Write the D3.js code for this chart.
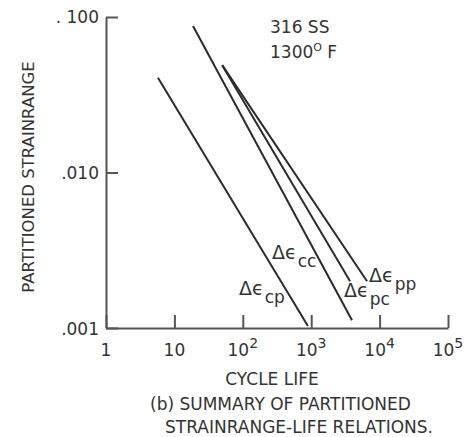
<!DOCTYPE html>
<html lang="en">
<head>
<meta charset="UTF-8">
<title>Partitioned strainrange-life</title>
<script src="https://d3js.org/d3.v7.min.js"></script>
<style>
  body { margin: 0; background: #fff; }
  text { font-family: "DejaVu Sans", sans-serif; fill: #333; }
</style>
</head>
<body>
<script>
// data: each relation is a straight line on log-log axes
var series = ["cp", "cc", "pc", "pp"];
var lifeStart = [5.75, 18.7, 50, 50];
var strainStart = [0.0407, 0.0875, 0.049, 0.049];
var lifeEnd = [895, 3950, 3700, 6550];
var strainEnd = [0.00103, 0.00112, 0.002, 0.002];

var xTicks = [1, 10, 100, 1000, 10000, 100000];
var xExp = ["", "", "2", "3", "4", "5"];
var yTicks = [0.001, 0.01, 0.1];
var yLabels = [".001", ".010", ". 100"];

var width = 470, height = 437;

var svg = d3.select("body").append("svg")
    .attr("width", width).attr("height", height);

var x = d3.scaleLog().domain([1, 1e5]).range([106, 448]);
var y = d3.scaleLog().domain([0.001, 0.1]).range([328, 17]);

var lines = series.map(function(s, i) {
    return { name: s, pts: [[lifeStart[i], strainStart[i]], [lifeEnd[i], strainEnd[i]]] };
});

// axes, ticks pointing inward
svg.append("g")
    .attr("transform", "translate(0," + y(0.001) + ")")
    .call(d3.axisBottom(x).tickValues(xTicks).tickFormat("").tickSizeInner(-13).tickSizeOuter(0));
svg.append("g")
    .attr("transform", "translate(" + x(1) + ",0)")
    .call(d3.axisLeft(y).tickValues(yTicks).tickFormat("").tickSizeInner(-12).tickSizeOuter(0));
svg.selectAll(".domain, .tick line").attr("stroke", "#555").attr("stroke-width", 2);

// x tick labels with exponents
var xl = svg.append("g").selectAll("text")
    .data(xTicks)
    .enter().append("text")
    .attr("x", function(d) { return x(d); })
    .attr("y", 356)
    .attr("text-anchor", "middle")
    .style("font-size", "17px");
xl.append("tspan").text(function(d, i) { return i == 0 ? "1" : "10"; });
xl.append("tspan")
    .attr("dy", -8)
    .style("font-size", "14px")
    .text(function(d, i) { return xExp[i]; });

// y tick labels
svg.append("g").selectAll("text")
    .data(yTicks)
    .enter().append("text")
    .attr("x", 99)
    .attr("y", function(d, i) { return y(d) + (i == 0 ? 7 : 6); })
    .attr("text-anchor", "end")
    .style("font-size", "17px")
    .text(function(d, i) { return yLabels[i]; });

// relation lines
var line = d3.line()
    .x(function(d) { return x(d[0]); })
    .y(function(d) { return y(d[1]); });

svg.append("g").selectAll("path")
    .data(lines)
    .enter().append("path")
    .attr("d", function(d) { return line(d.pts); })
    .attr("fill", "none")
    .attr("stroke", "#2b2b2b")
    .attr("stroke-width", 2);

// line labels
var labelPos = { cc: [272, 259], cp: [239, 295], pc: [344, 297], pp: [369, 282] };
var lab = svg.append("g").selectAll("text")
    .data(series)
    .enter().append("text")
    .attr("x", function(d) { return labelPos[d][0]; })
    .attr("y", function(d) { return labelPos[d][1]; })
    .style("font-size", "19px");
lab.append("tspan").text("\u0394\u03f5");
lab.append("tspan").attr("dy", 8).attr("dx", 1).style("font-size", "17px")
    .text(function(d) { return d; });

// annotation
svg.append("text").attr("x", 270).attr("y", 33).style("font-size", "17px").text("316 SS");
var t2 = svg.append("text").attr("x", 270).attr("y", 58).style("font-size", "17px");
t2.append("tspan").text("1300");
t2.append("tspan").attr("dy", -7).style("font-size", "11px").text("O");
t2.append("tspan").attr("dy", 7).text(" F");

// titles
svg.append("text")
    .attr("transform", "translate(34,177) rotate(-90)")
    .attr("text-anchor", "middle")
    .style("font-size", "16.5px")
    .text("PARTITIONED STRAINRANGE");
svg.append("text").attr("x", 272).attr("y", 385).attr("text-anchor", "middle")
    .style("font-size", "17px").text("CYCLE LIFE");
svg.append("text").attr("x", 150).attr("y", 410)
    .style("font-size", "17px").text("(b) SUMMARY OF PARTITIONED");
svg.append("text").attr("x", 165).attr("y", 433)
    .style("font-size", "17px").text("STRAINRANGE-LIFE RELATIONS.");
</script>
</body>
</html>
